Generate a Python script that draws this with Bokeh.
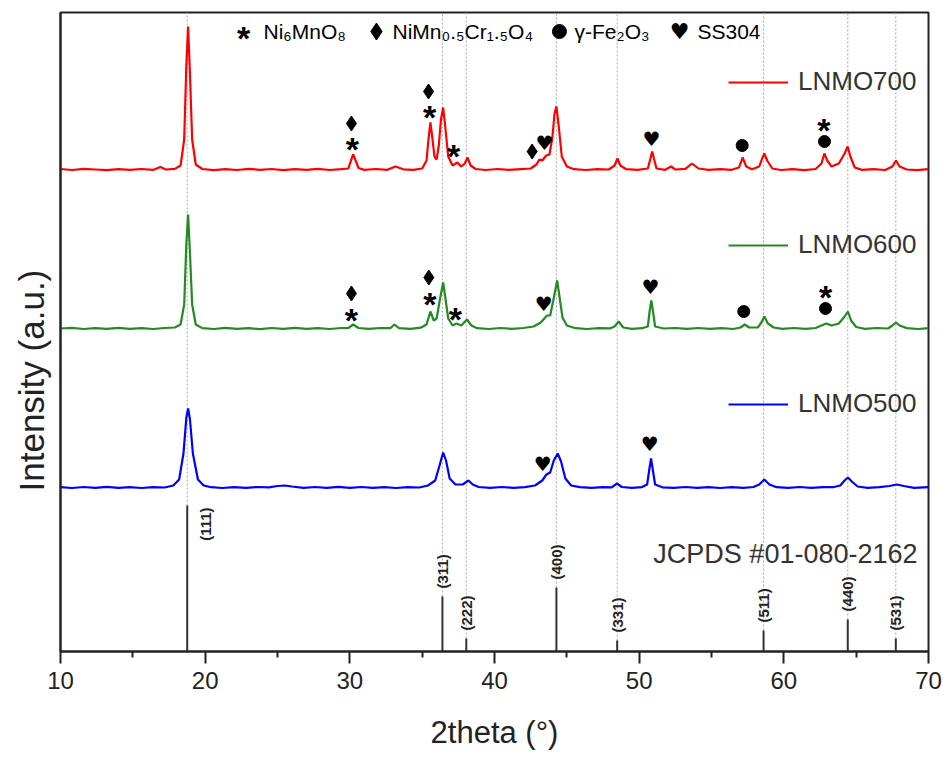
import numpy as np
from bokeh.plotting import figure
from bokeh.models import Range1d, FixedTicker, Legend, LegendItem, Title
from bokeh.core.properties import value
from bokeh.embed import file_html
from bokeh.resources import INLINE

# ---------------- data ----------------
x_700 = [10.0, 10.8, 11.6, 12.4, 13.2, 14.0, 14.8, 15.6, 16.4, 16.9, 17.3, 17.9, 18.3, 18.55, 18.7, 18.82, 18.95, 19.1, 19.35, 19.8,
         20.6, 21.4, 22.2, 23.0, 23.8, 24.6, 25.4, 26.2, 27.0, 27.8, 28.6, 29.4, 29.9, 30.1, 30.23, 30.4, 30.6, 31.0, 31.8, 32.6,
         33.15, 33.7, 34.4, 35.0, 35.3, 35.45, 35.57, 35.7, 35.85, 36.0, 36.15, 36.3, 36.45, 36.6, 36.8, 37.1, 37.43, 37.7, 37.95, 38.13,
         38.35, 38.7, 39.4, 40.2, 41.0, 41.8, 42.5, 42.9, 43.1, 43.3, 43.57, 43.8, 44.0, 44.15, 44.28, 44.45, 44.65, 45.0, 45.5, 46.3,
         47.1, 47.9, 48.3, 48.5, 48.7, 49.1, 49.9, 50.6, 50.78, 50.9, 51.02, 51.2, 51.8, 52.2, 52.5, 53.2, 53.65, 54.1, 54.8, 55.6,
         56.4, 56.9, 57.15, 57.4, 57.8, 58.3, 58.5, 58.65, 58.85, 59.2, 59.8, 60.6, 61.4, 62.2, 62.6, 62.8, 63.0, 63.3, 63.8, 64.2,
         64.41, 64.6, 64.9, 65.4, 66.2, 67.0, 67.5, 67.75, 68.0, 68.5, 69.2, 70.0]
i_700 = [0.5, -0.5, 0.6, 0.0, -0.6, 0.4, -0.3, 0.5, -0.4, 2.5, 0.0, 0.6, 4, 30, 105, 143, 95, 30, 5, 0.5,
         -0.6, 0.4, -0.5, 0.6, -0.3, 0.5, -0.6, 0.3, -0.4, 0.6, -0.5, 0.3, 1, 10, 15, 9, 1.5, -0.4, 0.5, -0.3,
         3, 0.2, -0.4, 1, 9, 32, 47, 32, 13, 10, 24, 50, 62, 42, 13, 4, 7, 3, 6, 12,
         4, 0.5, -0.5, 0.5, -0.4, 0.4, 1, 5, 10, 9, 14, 15, 32, 56, 63, 42, 13, 3, 0.3, -0.5,
         0.4, 0.0, 4, 11, 4, 0.3, -0.4, 1, 11, 18, 11, 1, -0.3, 3, 0.0, 0.6, 6, 1, -0.4, 0.4,
         -0.3, 2, 12, 3, 0.2, 3, 11, 16, 9, 1, -0.5, 0.4, -0.6, 0.5, 6, 16, 9, 3, 6, 16,
         23, 13, 2, -0.4, 0.3, -0.5, 3, 9, 3, 0.0, -0.6, 0.3]

x_600 = [10.0, 10.8, 11.6, 12.4, 13.2, 14.0, 14.8, 15.6, 16.4, 17.2, 17.9, 18.3, 18.55, 18.7, 18.82, 18.95, 19.1, 19.35, 19.8, 20.6,
         21.4, 22.2, 23.0, 23.8, 24.6, 25.4, 26.2, 27.0, 27.8, 28.6, 29.4, 29.9, 30.23, 30.6, 31.3, 32.1, 32.8, 33.08, 33.4, 34.2,
         34.9, 35.3, 35.57, 35.8, 36.0, 36.2, 36.45, 36.6, 36.8, 37.1, 37.37, 37.7, 38.1, 38.4, 38.8, 39.6, 40.4, 41.2, 42.0, 42.7,
         43.2, 43.63, 43.85, 44.05, 44.33, 44.5, 44.7, 45.0, 45.6, 46.4, 47.2, 48.0, 48.3, 48.58, 48.9, 49.5, 50.2, 50.6, 50.72, 50.84,
         50.96, 51.1, 51.7, 52.5, 53.3, 54.1, 54.9, 55.7, 56.5, 57.0, 57.3, 57.6, 58.2, 58.45, 58.65, 58.9, 59.3, 59.9, 60.7, 61.5,
         62.2, 62.6, 62.94, 63.3, 63.8, 64.2, 64.43, 64.65, 65.0, 65.6, 66.4, 67.2, 67.5, 67.75, 68.0, 68.5, 69.3, 70.0]
i_600 = [0.0, 0.6, -0.5, 0.4, -0.3, 0.6, -0.4, 0.3, -0.5, 0.5, 1, 4, 24, 85, 114, 75, 24, 4, 0.4, -0.5,
         0.6, -0.4, 0.3, -0.6, 0.5, -0.3, 0.6, -0.4, 0.3, -0.5, 0.5, 0.5, 4, 0.5, -0.4, 0.5, 0.3, 4, 0.3, -0.3,
         0.8, 4, 17, 8, 10, 27, 46, 31, 10, 3, 5, 3, 9, 3, 0.3, -0.5, 0.5, -0.3, 0.5, 2,
         6, 13, 13, 27, 48, 31, 11, 3, 0.3, -0.5, 0.4, 0.2, 2, 7, 1, -0.3, 0.3, 2, 17, 28,
         17, 2, 0.0, 0.5, -0.4, 0.5, -0.3, 0.4, -0.5, 1, 4, 1, 1, 6, 12, 5, 1, -0.4, 0.5, -0.3,
         0.5, 3, 5, 3, 5, 12, 17, 8, 1.5, -0.3, 0.5, 0.0, 3, 6, 3, 0.4, -0.5, 0.3]

x_500 = [10.0, 10.8, 11.6, 12.4, 13.2, 14.0, 14.8, 15.6, 16.4, 17.2, 17.8, 18.2, 18.5, 18.7, 18.82, 18.95, 19.15, 19.5, 19.9, 20.4,
         21.2, 22.0, 22.8, 23.6, 24.4, 25.0, 25.5, 26.0, 26.8, 27.6, 28.4, 29.2, 30.0, 30.8, 31.6, 32.4, 33.2, 34.0, 34.8, 35.4,
         35.9, 36.2, 36.45, 36.65, 36.9, 37.3, 37.8, 38.2, 38.5, 38.9, 39.7, 40.5, 41.3, 42.1, 42.8, 43.3, 43.59, 43.85, 44.1, 44.37,
         44.6, 44.9, 45.3, 45.9, 46.7, 47.5, 48.1, 48.47, 48.8, 49.5, 50.2, 50.55, 50.7, 50.82, 50.94, 51.1, 51.6, 52.4, 53.2, 54.0,
         54.8, 55.6, 56.4, 57.2, 57.9, 58.3, 58.65, 59.0, 59.5, 60.3, 61.1, 61.9, 62.7, 63.4, 63.9, 64.2, 64.43, 64.7, 65.1, 65.8,
         66.6, 67.3, 67.8, 68.3, 69.0, 70.0]
i_500 = [0.3, -0.5, 0.5, -0.3, 0.6, -0.4, 0.3, -0.5, 0.4, 0.0, 2, 8, 34, 70, 79, 68, 34, 8, 2, 0.3,
         -0.5, 0.4, -0.3, 0.5, 0.2, 1.5, 2, 1, -0.3, 0.5, -0.4, 0.6, -0.3, 0.5, -0.4, 0.3, -0.5, 0.4, 0.0, 2,
         7, 22, 35, 27, 9, 3, 3, 7, 3, 0.5, -0.4, 0.5, -0.3, 0.4, 2, 7, 13, 15, 27, 34,
         26, 9, 2, 0.3, -0.4, 0.4, 0.2, 4, 0.5, -0.3, 0.4, 3, 18, 29, 18, 3, 0.2, -0.4, 0.5, -0.3,
         0.4, -0.5, 0.3, -0.3, 0.5, 3, 8, 3, 0.3, -0.4, 0.5, -0.3, 0.4, 0.3, 2, 7, 10, 6, 1, -0.3,
         0.4, 1.5, 3, 1.5, -0.3, 0.3]

offset_700 = 482
offset_600 = 323
offset_500 = 164

# JCPDS #01-080-2162 reference pattern
ref_2theta = [18.76, 36.40, 38.05, 44.28, 48.48, 58.60, 64.42, 67.74]
ref_height = [146, 55, 13, 64, 11, 21, 32, 13]
ref_hkl = ["(111)", "(311)", "(222)", "(400)", "(331)", "(511)", "(440)", "(531)"]

# impurity phase markers (2theta, height)
star_x = [30.18, 35.51, 37.17, 62.76, 30.11, 35.53, 37.30, 62.88]
star_y = [507, 539, 500, 526, 336, 352, 337, 359]
diamond_x = [30.11, 35.44, 42.60, 30.11, 35.46]
diamond_y = [528, 560, 500, 358, 374]
circle_x = [57.12, 62.81, 57.23, 62.88]
circle_y = [506, 510, 340, 343]
heart_x = [43.45, 50.85, 43.41, 50.78, 43.34, 50.73]
heart_y = [509, 513, 348, 365, 188, 208]

phase_names = ["Ni₆MnO₈", "NiMn₀.₅Cr₁.₅O₄", "γ-Fe₂O₃", "SS304"]
key_symbol_x = [22.65, 31.84, 44.49, 52.79]
key_text_x = [24.03, 32.95, 45.53, 54.03]
key_y = 620

FONT = "Liberation Sans"
INK = "#222222"
Y_TOP = 639
STAR_SIZE = "34px"
STAR_DY = 4

p = figure(output_backend="svg", toolbar_location=None,
           frame_width=868, frame_height=639,
           min_border_left=60, min_border_top=12, min_border_right=23, min_border_bottom=100,
           x_range=Range1d(10, 70), y_range=Range1d(0, Y_TOP),
           background_fill_color="white", border_fill_color="white")
p.xgrid.visible = False
p.ygrid.visible = False
p.outline_line_color = INK
p.outline_line_width = 2

# x axis
xa = p.xaxis[0]
xa.ticker = FixedTicker(ticks=[10, 20, 30, 40, 50, 60, 70], minor_ticks=[15, 25, 35, 45, 55, 65])
xa.axis_label = "2theta (°)"
xa.axis_label_text_font = FONT
xa.axis_label_text_font_size = "31px"
xa.axis_label_text_font_style = "normal"
xa.axis_label_text_color = INK
xa.axis_label_standoff = 23
xa.major_label_text_font = FONT
xa.major_label_text_font_size = "24px"
xa.major_label_text_color = INK
xa.major_label_standoff = 8
xa.axis_line_width = 2
xa.axis_line_color = INK
xa.major_tick_line_width = 2
xa.major_tick_line_color = INK
xa.minor_tick_line_width = 2
xa.minor_tick_line_color = INK
xa.major_tick_in = 0
xa.major_tick_out = 12
xa.minor_tick_in = 0
xa.minor_tick_out = 6

# y axis: line only; its label is a side title shifted below the frame centre as in the original
ya = p.yaxis[0]
ya.ticker = FixedTicker(ticks=[])
ya.axis_line_width = 2
ya.axis_line_color = INK
ya.major_tick_out = 0
ya.minor_tick_out = 0
p.add_layout(Title(text="Intensity (a.u.)", align="left", offset=160, standoff=19,
                   text_font=FONT, text_font_size="35px", text_font_style="normal",
                   text_color=INK), "left")

# dotted guide lines from reference sticks to the top
p.segment(x0=ref_2theta, y0=ref_height, x1=ref_2theta, y1=[Y_TOP] * len(ref_2theta),
          line_color="#aaaaaa", line_width=1, line_dash="2 2")

# reference sticks
p.segment(x0=ref_2theta, y0=[0] * len(ref_2theta), x1=ref_2theta, y1=ref_height,
          line_color="#333333", line_width=2)
p.text(x=ref_2theta[1:], y=ref_height[1:], text=ref_hkl[1:], angle=np.pi / 2,
       text_align="left", text_baseline="middle", y_offset=-8,
       text_font=value(FONT), text_font_size="15px", text_font_style="bold", text_color=INK)
p.text(x=ref_2theta[:1], y=ref_height[:1], text=ref_hkl[:1], angle=np.pi / 2,
       text_align="right", text_baseline="middle", x_offset=18, y_offset=2,
       text_font=value(FONT), text_font_size="15px", text_font_style="bold", text_color=INK)
p.text(x=[69.24], y=[98], text=["JCPDS #01-080-2162"], text_align="right", text_baseline="middle",
       text_font=value(FONT), text_font_size="27px", text_color="#333333")

# traces
r700 = p.line(x_700, np.array(i_700) + offset_700, line_color="#ff0000", line_width=2.2)
r600 = p.line(x_600, np.array(i_600) + offset_600, line_color="#228b22", line_width=2.2)
r500 = p.line(x_500, np.array(i_500) + offset_500, line_color="#0000ff", line_width=2.2)

# phase markers
p.text(x=star_x, y=star_y, text=["*"] * len(star_x), text_align="center", text_baseline="alphabetic",
       y_offset=STAR_DY, text_font=value(FONT), text_font_size=STAR_SIZE, text_font_style="bold",
       text_color="black")
p.scatter(diamond_x, diamond_y, marker="diamond", size=15, fill_color="black", line_color="black")
p.scatter(circle_x, circle_y, marker="circle", size=12, fill_color="black", line_color="black")
p.text(x=heart_x, y=heart_y, text=["♥"] * len(heart_x), text_align="center", text_baseline="middle",
       text_font=value("DejaVu Sans"), text_font_size="20px", text_color="black")

# phase key at top
p.text(x=key_symbol_x[:1], y=[key_y], text=["*"], text_align="center", text_baseline="alphabetic",
       y_offset=STAR_DY + 2, text_font=value(FONT), text_font_size=STAR_SIZE, text_font_style="bold",
       text_color="black")
p.scatter(key_symbol_x[1:2], [key_y], marker="diamond", size=17, fill_color="black", line_color="black")
p.scatter(key_symbol_x[2:3], [key_y], marker="circle", size=14, fill_color="black", line_color="black")
p.text(x=key_symbol_x[3:], y=[key_y], text=["♥"], text_align="center", text_baseline="middle",
       text_font=value("DejaVu Sans"), text_font_size="22px", text_color="black")
p.text(x=key_text_x, y=[key_y] * 4, text=phase_names, text_align="left", text_baseline="middle",
       text_font=value(FONT), text_font_size="21px", text_color="black")

# per-trace legends
for r, lab, loc in [(r700, "LNMO700", (668, 554)), (r600, "LNMO600", (668, 391)), (r500, "LNMO500", (668, 232))]:
    leg = Legend(items=[LegendItem(label=lab, renderers=[r])], location=loc,
                 glyph_width=60, glyph_height=30, label_height=30, label_standoff=10,
                 padding=0, margin=0, spacing=0, border_line_color=None, background_fill_alpha=0,
                 label_text_font=FONT, label_text_font_size="26px", label_text_color="#333333")
    p.add_layout(leg)

open("out.html", "w").write(file_html(p, INLINE))
